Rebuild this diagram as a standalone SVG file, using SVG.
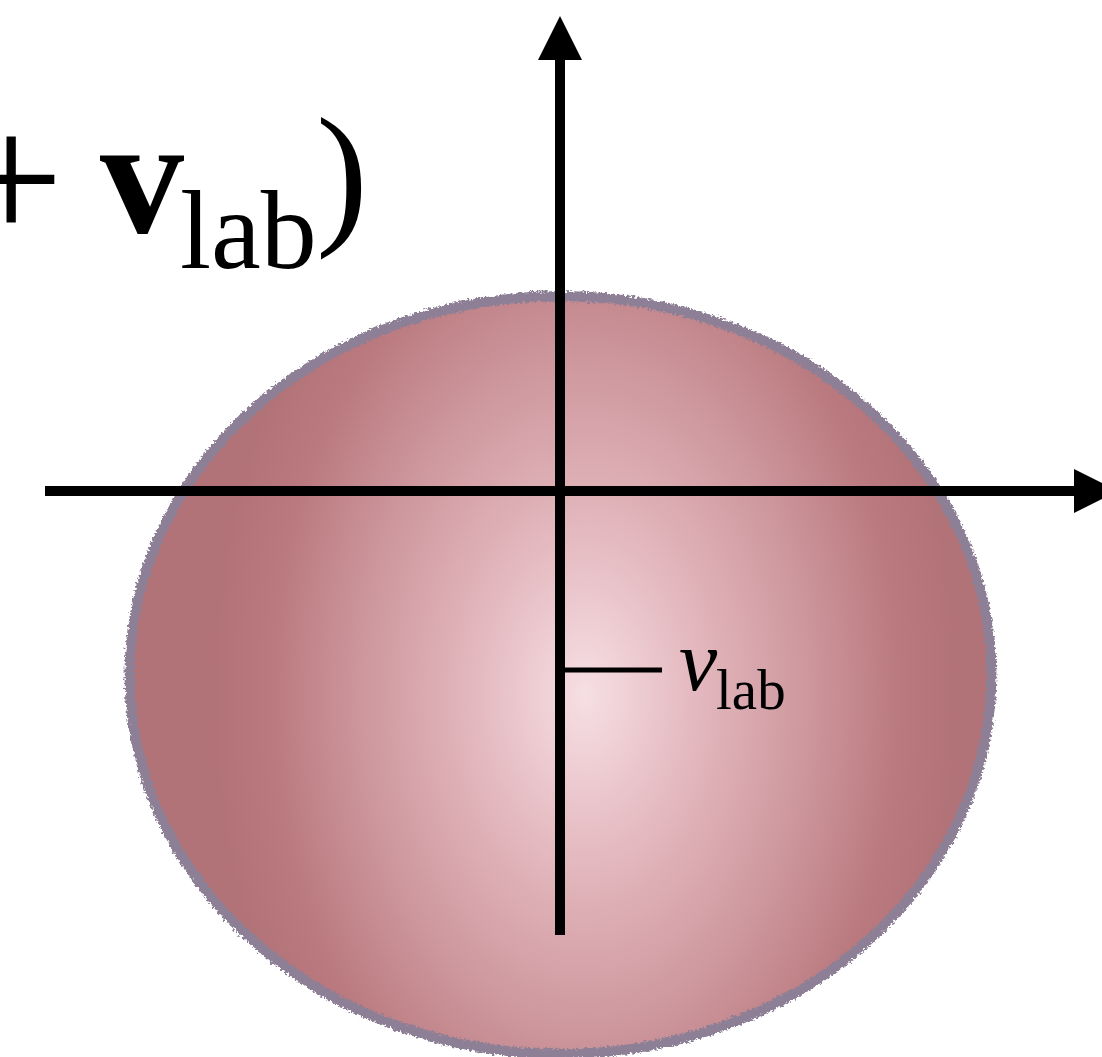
<svg xmlns="http://www.w3.org/2000/svg" width="1102" height="1057" viewBox="0 0 1102 1057">
<style>
.ax{stroke:#000;stroke-width:10;fill:none}
.head{fill:#000}
.serif{font-family:"Liberation Serif","Times New Roman",serif;fill:#000}
</style>
<defs>
<radialGradient id="ball" gradientUnits="userSpaceOnUse" cx="0" cy="0" r="1" gradientTransform="translate(585 695) scale(372 560)">
<stop offset="0" stop-color="#f6dfe4"/>
<stop offset="0.3" stop-color="#e3b8be"/>
<stop offset="0.6" stop-color="#cd979d"/>
<stop offset="0.85" stop-color="#b9797e"/>
<stop offset="1" stop-color="#b27378"/>
</radialGradient>
<filter id="rough" x="-5%" y="-5%" width="110%" height="110%">
<feTurbulence type="fractalNoise" baseFrequency="0.4" numOctaves="2" seed="3" result="n"/>
<feDisplacementMap in="SourceGraphic" in2="n" scale="7" xChannelSelector="R" yChannelSelector="G"/>
</filter>
</defs>
<g id="sphere">
<ellipse cx="560.5" cy="675" rx="431" ry="379" fill="url(#ball)"/>
<ellipse cx="560.5" cy="675" rx="431" ry="379" fill="none" stroke="#8d7f95" stroke-width="10" filter="url(#rough)"/>
</g>
<g id="connectors">
<line class="ax" x1="560" y1="935" x2="560" y2="58"/>
<polygon class="head" points="560,16 582,60 538,60"/>
<line class="ax" x1="45" y1="491" x2="1076" y2="491"/>
<polygon class="head" points="1118,491 1074,469 1074,513"/>
<line stroke="#000" stroke-width="5" x1="565" y1="670" x2="662" y2="670"/>
</g>
<g id="label-vlab">
<text class="serif" x="679" y="690" font-size="86" font-style="italic">v</text>
<text class="serif" x="716" y="709" font-size="57">lab</text>
</g>
<g id="title">
<text class="serif" x="-41" y="241" font-size="185">+</text>
<text class="serif" x="100" y="232" font-size="168" font-weight="bold">v</text>
<text class="serif" x="180" y="268" font-size="112">lab</text>
<text class="serif" x="316" y="226" font-size="156">)</text>
</g>
</svg>
